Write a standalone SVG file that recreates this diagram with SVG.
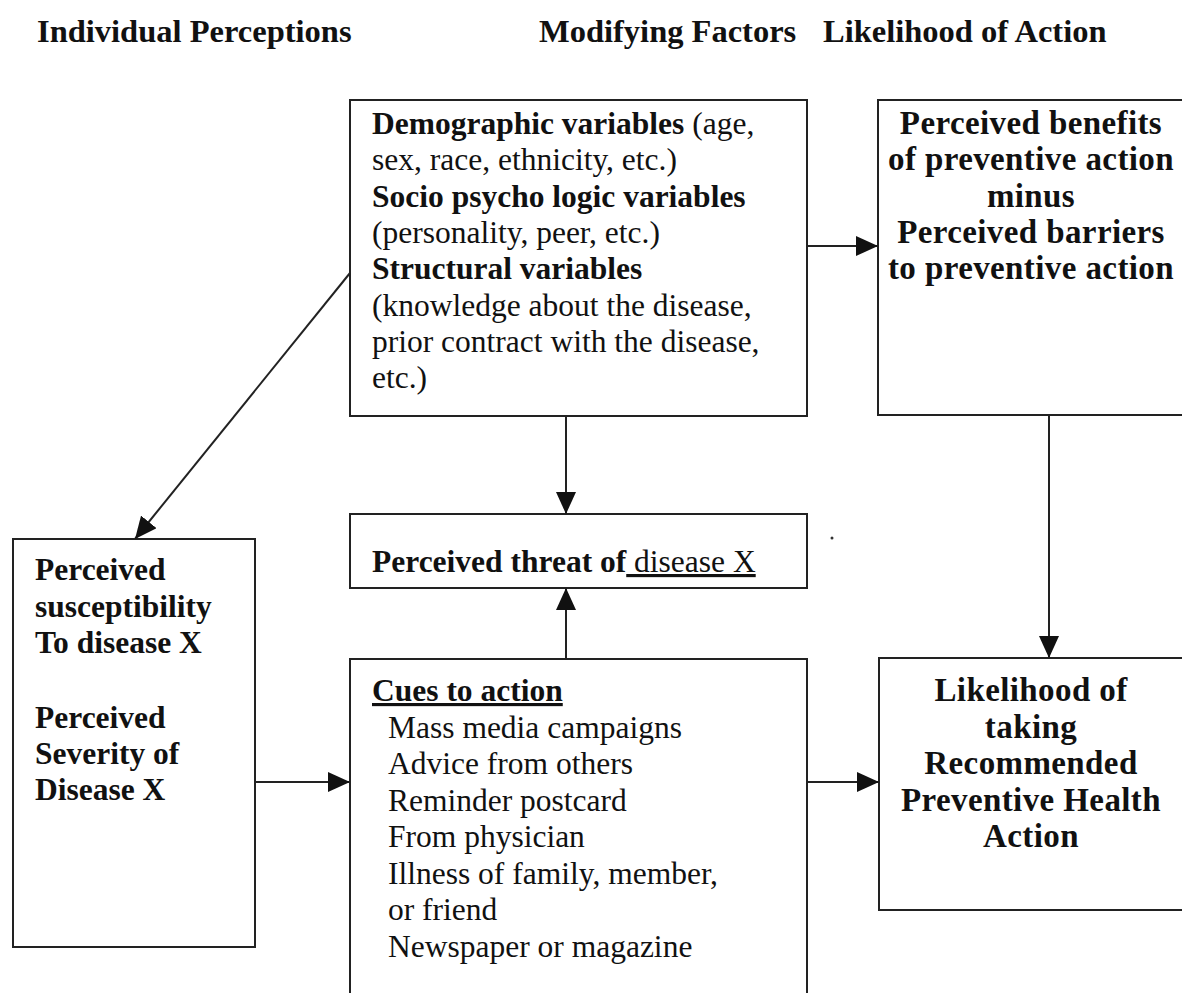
<svg xmlns="http://www.w3.org/2000/svg" width="1182" height="993" viewBox="0 0 1182 993">
<style>
  .box{fill:#ffffff;stroke:#222;stroke-width:2}
  .t{font-family:"Liberation Serif","Times New Roman",serif;font-size:31.5px;fill:#111}
  .b{font-weight:bold}
  .r{font-family:"Liberation Serif","Times New Roman",serif;font-size:33px;font-weight:bold;fill:#111;text-anchor:middle;letter-spacing:0.4px}
  .hd{font-family:"Liberation Serif","Times New Roman",serif;font-size:32.5px;font-weight:bold;fill:#111}
  .c{fill:none;stroke:#222;stroke-width:2}
</style>
<defs>
  <marker id="ah" markerWidth="22" markerHeight="20" refX="22" refY="10" orient="auto" markerUnits="userSpaceOnUse">
    <path d="M0,0 L22,10 L0,20 Z" fill="#111"/>
  </marker>
</defs>
<rect width="1182" height="993" fill="#ffffff"/>

<g id="headers">
  <text class="hd" x="37" y="42">Individual Perceptions</text>
  <text class="hd" x="539" y="42">Modifying Factors</text>
  <text class="hd" x="823" y="42">Likelihood of Action</text>
</g>

<g id="modifying-factors">
  <rect class="box" x="350" y="100" width="457" height="316"/>
  <text class="t" x="372" y="134"><tspan class="b">Demographic variables</tspan> (age,</text>
  <text class="t" x="372" y="170.3">sex, race, ethnicity, etc.)</text>
  <text class="t b" x="372" y="206.6">Socio psycho logic variables</text>
  <text class="t" x="372" y="242.9">(personality, peer, etc.)</text>
  <text class="t b" x="372" y="279.2">Structural variables</text>
  <text class="t" x="372" y="315.5">(knowledge about the disease,</text>
  <text class="t" x="372" y="351.8">prior contract with the disease,</text>
  <text class="t" x="372" y="388.1">etc.)</text>
</g>

<g id="benefits-barriers">
  <rect class="box" x="878" y="100" width="330" height="315"/>
  <text class="r" x="1031" y="134">Perceived benefits</text>
  <text class="r" x="1031" y="170.3">of preventive action</text>
  <text class="r" x="1031" y="206.6">minus</text>
  <text class="r" x="1031" y="242.9">Perceived barriers</text>
  <text class="r" x="1031" y="279.2">to preventive action</text>
</g>

<g id="perceived-threat">
  <rect class="box" x="350" y="514" width="457" height="74"/>
  <text class="t" x="372" y="572"><tspan class="b">Perceived threat of</tspan><tspan text-decoration="underline"> disease X</tspan></text>
</g>

<g id="individual-perceptions">
  <rect class="box" x="13" y="539" width="242" height="408"/>
  <text class="t b" x="35" y="580">Perceived</text>
  <text class="t b" x="35" y="616.5">susceptibility</text>
  <text class="t b" x="35" y="653">To disease X</text>
  <text class="t b" x="35" y="728">Perceived</text>
  <text class="t b" x="35" y="764">Severity of</text>
  <text class="t b" x="35" y="800">Disease X</text>
</g>

<g id="cues-to-action">
  <rect class="box" x="350" y="659" width="457" height="360"/>
  <text class="t b" x="372" y="701" text-decoration="underline">Cues to action</text>
  <text class="t" x="388" y="737.5">Mass media campaigns</text>
  <text class="t" x="388" y="774">Advice from others</text>
  <text class="t" x="388" y="810.5">Reminder postcard</text>
  <text class="t" x="388" y="847">From physician</text>
  <text class="t" x="388" y="883.5">Illness of family, member,</text>
  <text class="t" x="388" y="920">or friend</text>
  <text class="t" x="388" y="956.5">Newspaper or magazine</text>
</g>

<g id="likelihood-of-action">
  <rect class="box" x="879" y="658" width="330" height="252"/>
  <text class="r" x="1031" y="701">Likelihood of</text>
  <text class="r" x="1031" y="737.5">taking</text>
  <text class="r" x="1031" y="774">Recommended</text>
  <text class="r" x="1031" y="810.5">Preventive Health</text>
  <text class="r" x="1031" y="847">Action</text>
</g>

<g id="connectors">
  <line class="c" x1="807" y1="246" x2="878" y2="246" marker-end="url(#ah)"/>
  <line class="c" x1="566" y1="416" x2="566" y2="514" marker-end="url(#ah)"/>
  <line class="c" x1="566" y1="659" x2="566" y2="588" marker-end="url(#ah)"/>
  <line class="c" x1="255" y1="782" x2="350" y2="782" marker-end="url(#ah)"/>
  <line class="c" x1="807" y1="782" x2="879" y2="782" marker-end="url(#ah)"/>
  <line class="c" x1="1049" y1="415" x2="1049" y2="658" marker-end="url(#ah)"/>
  <line class="c" x1="350" y1="273" x2="135" y2="539" marker-end="url(#ah)"/>
</g>

<circle cx="832" cy="538" r="1.5" fill="#333"/>
</svg>
